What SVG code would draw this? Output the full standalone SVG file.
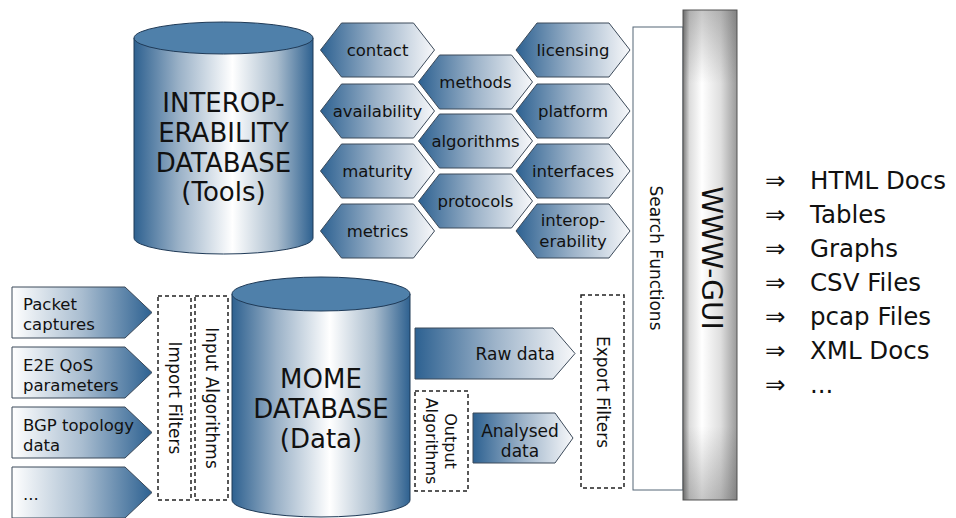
<svg xmlns="http://www.w3.org/2000/svg" width="956" height="518" viewBox="0 0 956 518">
<defs>
<linearGradient id="hexG" x1="0" y1="0" x2="1" y2="0">
<stop offset="0" stop-color="#2d6191"/><stop offset="0.5" stop-color="#9db3c9"/><stop offset="1" stop-color="#f7f8fa"/>
</linearGradient>
<linearGradient id="inG" x1="0" y1="0" x2="1" y2="0">
<stop offset="0" stop-color="#ffffff"/><stop offset="0.5" stop-color="#a9bdd0"/><stop offset="1" stop-color="#2d6191"/>
</linearGradient>
<linearGradient id="cylG" x1="0" y1="0" x2="1" y2="0">
<stop offset="0" stop-color="#2e6190"/><stop offset="0.25" stop-color="#9ab1c7"/><stop offset="0.55" stop-color="#ffffff"/><stop offset="0.8" stop-color="#a9bccd"/><stop offset="1" stop-color="#2e6190"/>
</linearGradient>
<linearGradient id="guiG" x1="0" y1="0" x2="1" y2="0">
<stop offset="0" stop-color="#7c7c7c"/><stop offset="0.12" stop-color="#dcdcdc"/><stop offset="0.35" stop-color="#ffffff"/><stop offset="0.7" stop-color="#dedede"/><stop offset="1" stop-color="#9a9a9a"/>
</linearGradient>
<linearGradient id="guiV" x1="0" y1="0" x2="0" y2="1">
<stop offset="0" stop-color="#444" stop-opacity="0.3"/><stop offset="0.15" stop-color="#444" stop-opacity="0"/><stop offset="0.85" stop-color="#444" stop-opacity="0"/><stop offset="1" stop-color="#444" stop-opacity="0.3"/>
</linearGradient>
</defs>
<style>
text{font-family:"DejaVu Sans","Liberation Sans",sans-serif;fill:#111}
.hex{fill:url(#hexG);stroke:#3c4a5a;stroke-width:1}
.hx{font-size:16.5px;text-anchor:middle}
.inp{fill:url(#inG);stroke:#3c4a5a;stroke-width:1}
.it{font-size:16.5px}
.cyl{fill:url(#cylG);stroke:#1f3a57;stroke-width:1}
.top{fill:#4f80aa;stroke:#1f3a57;stroke-width:1}
.ct{font-size:26px;text-anchor:middle}
.dash{fill:#fff;stroke:#222;stroke-width:1.5;stroke-dasharray:4 3}
.vt{font-size:17px;text-anchor:middle;dominant-baseline:central}
.lst{font-size:24.5px}
</style>

<g id="interop-db">
<path class="cyl" d="M134,38 V238 A89.5,16 0 0 0 313,238 V38 Z"/>
<ellipse class="top" cx="223.5" cy="38" rx="89.5" ry="16"/>
<text class="ct" x="223.5" y="112">INTEROP-</text>
<text class="ct" x="223.5" y="142">ERABILITY</text>
<text class="ct" x="223.5" y="172">DATABASE</text>
<text class="ct" x="223.5" y="201">(Tools)</text>
</g>

<g id="hex-contact"><polygon class="hex" points="320.5,50 341.5,23 413.5,23 434.5,50 413.5,77 341.5,77"/><text class="hx" x="377.5" y="56">contact</text></g>
<g id="hex-availability"><polygon class="hex" points="320.5,111 341.5,84 413.5,84 434.5,111 413.5,138 341.5,138"/><text class="hx" x="377.5" y="117">availability</text></g>
<g id="hex-maturity"><polygon class="hex" points="320.5,171 341.5,144 413.5,144 434.5,171 413.5,198 341.5,198"/><text class="hx" x="377.5" y="177">maturity</text></g>
<g id="hex-metrics"><polygon class="hex" points="320.5,231 341.5,204 413.5,204 434.5,231 413.5,258 341.5,258"/><text class="hx" x="377.5" y="237">metrics</text></g>

<g id="hex-methods"><polygon class="hex" points="418.5,82 439.5,55 511.5,55 532.5,82 511.5,109 439.5,109"/><text class="hx" x="475.5" y="88">methods</text></g>
<g id="hex-algorithms"><polygon class="hex" points="418.5,141 439.5,114 511.5,114 532.5,141 511.5,168 439.5,168"/><text class="hx" x="475.5" y="147">algorithms</text></g>
<g id="hex-protocols"><polygon class="hex" points="418.5,201 439.5,174 511.5,174 532.5,201 511.5,228 439.5,228"/><text class="hx" x="475.5" y="207">protocols</text></g>

<g id="hex-licensing"><polygon class="hex" points="516,50 537,23 609,23 630,50 609,77 537,77"/><text class="hx" x="573" y="56">licensing</text></g>
<g id="hex-platform"><polygon class="hex" points="516,111 537,84 609,84 630,111 609,138 537,138"/><text class="hx" x="573" y="117">platform</text></g>
<g id="hex-interfaces"><polygon class="hex" points="516,171 537,144 609,144 630,171 609,198 537,198"/><text class="hx" x="573" y="177">interfaces</text></g>
<g id="hex-interoperability"><polygon class="hex" points="516,231 537,204 609,204 630,231 609,258 537,258"/><text class="hx" x="573" y="226">interop-</text><text class="hx" x="573" y="247">erability</text></g>

<g id="search-functions">
<rect x="633" y="27" width="50" height="463" fill="#fff" stroke="#556677" stroke-width="1"/>
<text class="vt" transform="translate(656,258) rotate(90)">Search Functions</text>
</g>

<g id="www-gui">
<rect x="683" y="10" width="54" height="490" fill="url(#guiG)" stroke="#555" stroke-width="1"/>
<rect x="683" y="10" width="54" height="490" fill="url(#guiV)"/>
<text transform="translate(711,258) rotate(90)" style="font-size:28px;text-anchor:middle;dominant-baseline:central">WWW-GUI</text>
</g>

<g id="outputs">
<text class="lst" x="765" y="189">⇒</text><text class="lst" x="810" y="189">HTML Docs</text>
<text class="lst" x="765" y="223">⇒</text><text class="lst" x="810" y="223">Tables</text>
<text class="lst" x="765" y="257">⇒</text><text class="lst" x="810" y="257">Graphs</text>
<text class="lst" x="765" y="291">⇒</text><text class="lst" x="810" y="291">CSV Files</text>
<text class="lst" x="765" y="325">⇒</text><text class="lst" x="810" y="325">pcap Files</text>
<text class="lst" x="765" y="359">⇒</text><text class="lst" x="810" y="359">XML Docs</text>
<text class="lst" x="765" y="393">⇒</text><text class="lst" x="810" y="393">...</text>
</g>

<g id="in-packet"><polygon class="inp" points="12,287 125,287 152,312.5 125,338 12,338"/><text class="it" x="23" y="310">Packet</text><text class="it" x="23" y="330">captures</text></g>
<g id="in-e2e"><polygon class="inp" points="12,347 125,347 152,372.5 125,398 12,398"/><text class="it" x="23" y="371">E2E QoS</text><text class="it" x="23" y="391">parameters</text></g>
<g id="in-bgp"><polygon class="inp" points="12,407 125,407 152,432.5 125,458 12,458"/><text class="it" x="23" y="431">BGP topology</text><text class="it" x="23" y="451">data</text></g>
<g id="in-more"><polygon class="inp" points="12,467 125,467 152,492.5 125,518 12,518"/><text class="it" x="23" y="500">...</text></g>

<g id="import-filters"><rect class="dash" x="158" y="296" width="33" height="204"/><text class="vt" transform="translate(174.5,398) rotate(90)">Import Filters</text></g>
<g id="input-algorithms"><rect class="dash" x="195" y="296" width="33" height="204"/><text class="vt" transform="translate(211.5,398) rotate(90)">Input Algorithms</text></g>

<g id="mome-db">
<path class="cyl" d="M232,294 V500 A89,17 0 0 0 410,500 V294 Z"/>
<ellipse class="top" cx="321" cy="294" rx="89" ry="17"/>
<text class="ct" x="321" y="388">MOME</text>
<text class="ct" x="321" y="418">DATABASE</text>
<text class="ct" x="321" y="448">(Data)</text>
</g>

<g id="raw-data"><polygon class="hex" points="415,328 553,328 575,353.5 553,379 415,379"/><text class="it" x="555" y="360" style="font-size:17px;text-anchor:end">Raw data</text></g>
<g id="output-algorithms"><rect class="dash" x="415" y="391" width="53" height="100"/>
<text class="vt" transform="translate(441.5,441) rotate(90)" style="font-size:16px"><tspan x="0" dy="-0.6em">Output</tspan><tspan x="0" dy="1.2em">Algorithms</tspan></text></g>
<g id="analysed-data"><polygon class="hex" points="473,413 555,413 573,438 555,463 473,463"/><text class="hx" x="520" y="437" style="font-size:17px">Analysed</text><text class="hx" x="520" y="457" style="font-size:17px">data</text></g>
<g id="export-filters"><rect class="dash" x="581" y="295" width="43" height="193"/><text class="vt" transform="translate(602.5,392) rotate(90)">Export Filters</text></g>
<g id="connectors"></g>
</svg>
